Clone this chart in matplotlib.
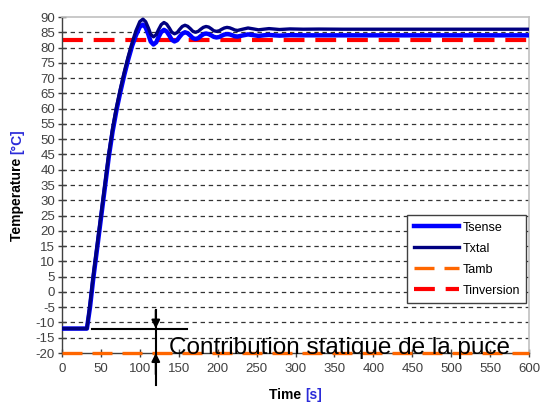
import matplotlib
matplotlib.use('Agg')
import matplotlib.pyplot as plt

plt.rcParams['font.family'] = ['Liberation Sans', 'DejaVu Sans']
plt.rcParams['axes.unicode_minus'] = False

# ---- data ----
time_s = [0, 32, 36, 40, 45, 50, 55, 60, 65, 70, 75, 80, 85, 90, 95, 100,
          104, 107.5, 111, 114, 117.5, 121, 124, 127.5, 131, 134.5, 138, 141,
          144.5, 148, 151, 154.5, 158, 161.5, 165, 168, 171.5, 175, 178, 181.5,
          185, 188.5, 192, 195, 198.5, 202, 205, 208.5, 212, 215.5, 219, 222,
          225.5, 232, 239, 246, 252.5, 259, 266, 273, 279.5, 293, 310, 330,
          360, 400, 450, 500, 550, 600]
t_xtal = [-12, -12, -4, 5, 15, 25, 35, 45, 53.5, 60.5, 66.5, 72, 77, 81.5, 85.5, 88.5,
          89.3, 88.45, 86.4, 84.35, 83.5, 84.2, 85.85, 87.5, 88.2, 87.65, 86.35, 85.05,
          84.5, 84.9, 85.9, 86.9, 87.3, 86.95, 86.15, 85.35, 85.0, 85.3, 85.95, 86.6,
          86.9, 86.7, 86.1, 85.5, 85.3, 85.5, 85.95, 86.4, 86.6, 86.45, 86.1, 85.75,
          85.6, 86.0, 86.4, 86.1, 85.8, 86.0, 86.2, 86.05, 85.9, 86.1, 86.0, 86.05,
          86, 86, 86, 86, 86, 86]
t_sense = [-12, -12, -5, 4, 14, 24, 34, 44, 52.5, 59.5, 65.5, 71, 76, 80.5, 84, 86.8,
           87.5, 86.55, 84.25, 81.95, 81.0, 81.7, 83.4, 85.1, 85.8, 85.25, 83.9, 82.55,
           82.0, 82.45, 83.5, 84.55, 85.0, 84.7, 83.9, 83.1, 82.8, 83.05, 83.7, 84.35,
           84.6, 84.4, 83.95, 83.5, 83.3, 83.45, 83.85, 84.25, 84.4, 84.3, 84.0, 83.7,
           83.6, 83.95, 84.3, 84.05, 83.8, 84.0, 84.15, 84.0, 83.9, 84.05, 84.0, 84.0,
           84, 84, 84, 84, 84, 84]
t_range = [0, 600]
t_amb = [-20, -20]
t_inversion = [82.5, 82.5]

x_ticks = list(range(0, 601, 50))
y_ticks = list(range(-20, 91, 5))

W, H = 541, 408
fig = plt.figure(figsize=(W / 100, H / 100), dpi=100)
ax = fig.add_axes([62 / W, 1 - 353 / H, (529 - 62) / W, (353 - 17) / H])

# grid
for yv in y_ticks[1:-1]:
    ax.axhline(yv, color='#333333', lw=0.9, ls=(0, (3.5, 3)), zorder=1)

ax.plot(time_s, t_sense, color='#0000ff', lw=3.2, label='Tsense', zorder=3,
        solid_joinstyle='round')
ax.plot(time_s, t_xtal, color='#000080', lw=2.4, label='Txtal', zorder=4,
        solid_joinstyle='round')
ax.plot(t_range, t_amb, color='#ff6600', lw=2.4, ls=(0, (6, 3)), label='Tamb',
        zorder=3, clip_on=False)
ax.plot(t_range, t_inversion, color='#ff0000', lw=3, ls=(0, (5, 2.6)),
        label='Tinversion', zorder=2)

ax.set_xlim(0, 600)
ax.set_ylim(-20, 90)
ax.set_xticks(x_ticks)
ax.set_yticks(y_ticks)
ax.tick_params(direction='inout', length=6, width=1, colors='#404040',
               labelsize=9.5, labelcolor='#404040')
ax.tick_params(axis='y', pad=2)
ax.tick_params(axis='x', pad=4)
for s in ['top', 'right']:
    ax.spines[s].set_color('#c0c0c0')
    ax.spines[s].set_linewidth(1.2)
for s in ['left', 'bottom']:
    ax.spines[s].set_color('#404040')
    ax.spines[s].set_linewidth(1)

# annotation marks
ax.plot([38.5, 160.5], [-12, -12], color='black', lw=1.5, zorder=5)
ax.plot([120.5, 120.5], [-6, -30.5], color='black', lw=1.5, zorder=5, clip_on=False)
ax.annotate('', xy=(120.5, -12), xytext=(120.5, -6),
            arrowprops=dict(arrowstyle='-|>', color='black', lw=1.5,
                            mutation_scale=12, shrinkA=0, shrinkB=0), zorder=6)
ax.annotate('', xy=(120.5, -20), xytext=(120.5, -27),
            arrowprops=dict(arrowstyle='-|>', color='black', lw=1.5,
                            mutation_scale=12, shrinkA=0, shrinkB=0),
            annotation_clip=False, zorder=6)
ax.text(137, -20.3, 'Contribution statique de la puce', fontsize=17.5,
        color='black', va='baseline', ha='left', zorder=7)

leg = ax.legend(loc='lower right', bbox_to_anchor=(0.9936, 0.149), fontsize=9,
                frameon=True, fancybox=False, framealpha=1, edgecolor='#404040',
                handlelength=3.6, labelspacing=0.72, borderpad=0.5,
                handletextpad=0.3, borderaxespad=0)
leg.get_frame().set_linewidth(1)

# two-colour axis labels
r = fig.canvas.get_renderer()
blue = '#2b2bd9'
t1 = fig.text(0, 0, 'Time ', fontsize=10, fontweight='bold', color='black',
              va='center', ha='left')
t2 = fig.text(0, 0, '[s]', fontsize=10, fontweight='bold', color=blue,
              va='center', ha='left')
w1 = t1.get_window_extent(r).width
w2 = t2.get_window_extent(r).width
left = 295.5 - (w1 + w2) / 2
yl = 1 - 395 / H
t1.set_position((left / W, yl))
t2.set_position(((left + w1) / W, yl))

t3 = fig.text(0, 0, 'Temperature ', fontsize=10, fontweight='bold',
              color='black', rotation=90, ha='center', va='bottom')
t4 = fig.text(0, 0, '[°C]', fontsize=10, fontweight='bold', color=blue,
              rotation=90, ha='center', va='bottom')
h3 = t3.get_window_extent(r).height
h4 = t4.get_window_extent(r).height
cy = H - 185
bottom = cy - (h3 + h4) / 2
t3.set_position((17 / W, bottom / H))
t4.set_position((17 / W, (bottom + h3) / H))

fig.savefig('out.png', dpi=100)
